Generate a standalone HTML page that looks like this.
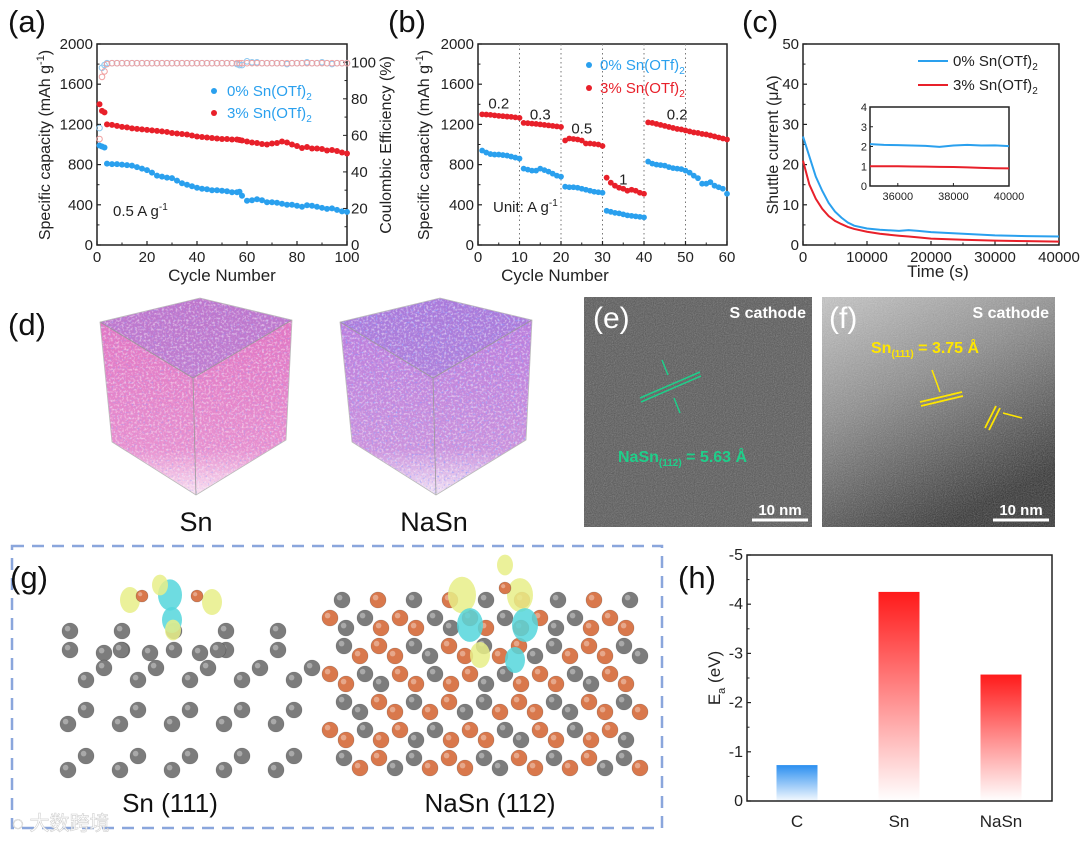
<!DOCTYPE html>
<html><head><meta charset="utf-8"><style>
body{margin:0;background:#fff;}
svg{display:block;font-family:"Liberation Sans","Noto Sans CJK SC",sans-serif;}
</style></head><body>
<svg id="fig" width="1080" height="842" viewBox="0 0 1080 842" xmlns="http://www.w3.org/2000/svg">
<defs>
<filter id="noise" x="0" y="0" width="100%" height="100%"><feTurbulence type="fractalNoise" baseFrequency="0.9" numOctaves="2" seed="3"/><feColorMatrix type="saturate" values="0"/><feComponentTransfer><feFuncA type="table" tableValues="0 0.45"/></feComponentTransfer></filter>
<filter id="speck" x="0" y="0" width="100%" height="100%"><feTurbulence type="fractalNoise" baseFrequency="0.45" numOctaves="2" seed="7"/><feColorMatrix type="matrix" values="0 0 0 0 1  0 0 0 0 1  0 0 0 0 1  0 0 0 3 -1.4"/></filter>
<filter id="speckBlue" x="0" y="0" width="100%" height="100%"><feTurbulence type="fractalNoise" baseFrequency="0.5" numOctaves="2" seed="11"/><feColorMatrix type="matrix" values="0 0 0 0 0.3  0 0 0 0 0.35  0 0 0 0 1  0 0 0 4 -2.3"/></filter>
<linearGradient id="gRed" x1="0" y1="0" x2="0" y2="1"><stop offset="0" stop-color="#ff1a1a"/><stop offset="1" stop-color="#ff1a1a" stop-opacity="0"/></linearGradient>
<linearGradient id="gBlue" x1="0" y1="0" x2="0" y2="1"><stop offset="0" stop-color="#2b8ff0"/><stop offset="1" stop-color="#2b8ff0" stop-opacity="0.05"/></linearGradient>
<linearGradient id="gF" x1="0" y1="0" x2="0.5" y2="1"><stop offset="0" stop-color="#c9c9c9"/><stop offset="0.45" stop-color="#8a8a8a"/><stop offset="1" stop-color="#2e2e2e"/></linearGradient>
<linearGradient id="cubeSn" x1="0" y1="0" x2="0" y2="1"><stop offset="0" stop-color="#e070c0"/><stop offset="0.75" stop-color="#e890cf"/><stop offset="1" stop-color="#fbeaf5"/></linearGradient>
<linearGradient id="cubeNa" x1="0" y1="0" x2="0" y2="1"><stop offset="0" stop-color="#b878dc"/><stop offset="0.75" stop-color="#cc92dc"/><stop offset="1" stop-color="#f6ebf7"/></linearGradient>
<clipPath id="clipSn"><polygon points="100,322 200,298 292,320 286,440 196,495 112,442"/></clipPath>
<clipPath id="clipNa"><polygon points="340,322 440,298 532,320 526,440 436,495 352,442"/></clipPath>
</defs>
<g id="root"></g>
</svg>
<script>
// ---------- Panel (a) data ----------
const aCycles=[1,2,3,4,6,8,10,12,14,16,18,20,22,24,26,28,30,32,34,36,38,40,42,44,46,48,50,52,54,56,57,58,60,62,64,66,68,70,72,74,76,78,80,82,84,86,88,90,92,94,96,98,100];
const aBlueCap=[990,980,970,810,805,805,800,795,790,775,760,745,720,690,680,670,665,640,615,600,585,570,560,555,545,545,540,535,525,525,530,490,440,445,455,445,425,425,420,410,400,400,390,380,395,390,380,370,360,365,350,335,330];
const aRedCap=[1400,1335,1320,1200,1195,1185,1175,1170,1160,1155,1150,1145,1140,1135,1130,1125,1115,1110,1105,1100,1090,1080,1075,1070,1065,1060,1055,1055,1050,1050,1045,1040,1030,1020,1015,1005,1000,1010,1015,1030,1020,1000,985,965,975,960,960,955,940,945,935,920,910];
const aBlueCE=[64,97,98.5,99.5,99.5,99.5,99.5,99.5,99.5,99.5,99.5,99.5,99.5,99.5,99.5,99.5,99.5,99.5,99.5,99.5,99.5,99.5,99.5,99.5,99.5,99.5,99.5,99.5,99.5,99,98.5,98.5,100.5,100,100,99.5,99.5,99.5,99.5,99.5,99,99.5,99.5,99.5,100,99.5,99.5,100,99.5,99,99.5,99.5,99.5];
const aRedCE=[58,92,95,99,99.5,99.5,99.5,99.5,99.5,99.5,99.5,99.5,99.5,99.5,99.5,99.5,99.5,99.5,99.5,99.5,99.5,99.5,99.5,99.5,99.5,99.5,99.5,99.5,99.5,99.5,99.5,99.5,99.5,99.5,99.5,99.5,99.5,99.5,99.5,99.5,99.5,99.5,99.5,99.5,99.5,99.5,99.5,99.5,99.5,99.5,99.5,99.5,99.5];
const aXTicks=[0,20,40,60,80,100];
const aYTicks=[0,400,800,1200,1600,2000];
const aY2Ticks=[0,20,40,60,80,100];
// ---------- Panel (b) data ----------
const bCycles=[1,2,3,4,5,6,7,8,9,10,11,12,13,14,15,16,17,18,19,20,21,22,23,24,25,26,27,28,29,30,31,32,33,34,35,36,37,38,39,40,41,42,43,44,45,46,47,48,49,50,51,52,53,54,55,56,57,58,59,60];
const bRed=[1300,1298,1295,1290,1285,1282,1278,1275,1270,1265,1215,1212,1208,1205,1200,1195,1190,1185,1180,1175,1040,1060,1055,1050,1040,1010,1010,1005,1000,985,670,620,590,570,560,540,550,540,520,510,1220,1215,1205,1195,1185,1175,1165,1155,1150,1140,1130,1120,1115,1105,1100,1090,1080,1070,1060,1050];
const bBlue=[940,920,905,900,900,895,890,880,870,860,760,750,740,740,760,745,730,710,690,680,580,575,575,570,560,550,540,530,525,520,340,330,320,315,305,295,290,285,280,275,830,810,800,795,790,775,765,760,755,740,720,690,665,610,610,625,590,575,560,510];
const bXTicks=[0,10,20,30,40,50,60];
const bYTicks=[0,400,800,1200,1600,2000];
const bRateLabels=["0.2","0.3","0.5","1","0.2"];
const bRateX=[5,15,25,35,48];
const bRateY=[1360,1250,1110,600,1250];
// ---------- Panel (c) data ----------
const cTime=[0,1000,2000,3000,4000,5000,6000,7000,8000,10000,12000,15000,16500,18000,20000,25000,30000,35000,40000];
const cBlue=[27,22,17,13.5,10.5,8.3,6.8,5.6,4.8,4.1,3.8,3.5,3.7,3.5,3.2,2.8,2.4,2.2,2.1];
const cRed=[21,15,11.5,9,7.2,6,5.2,4.5,4,3.3,2.8,2.3,2.1,1.9,1.6,1.3,1.1,0.95,0.85];
const cInsetTime=[35000,35500,36000,36500,37000,37500,38000,38500,39000,39500,40000];
const cInsetBlue=[2.12,2.08,2.07,2.05,2.03,1.98,2.05,2.08,2.05,2.06,2.02];
const cInsetRed=[1.0,1.0,1.0,0.99,0.98,0.97,0.96,0.94,0.92,0.9,0.89];
const cXTicks=[0,10000,20000,30000,40000];
const cYTicks=[0,10,20,30,40,50];
const cInsetXTicks=[36000,38000,40000];
const cInsetYTicks=[0,1,2,3,4];
// ---------- Panel (h) data ----------
const hCats=["C","Sn","NaSn"];
const hVals=[-0.73,-4.25,-2.57];
const hYTicks=[0,-1,-2,-3,-4,-5];

const NS="http://www.w3.org/2000/svg";
const root=document.getElementById('root');
function el(tag,attrs,parent,txt){const e=document.createElementNS(NS,tag);for(const k in attrs)e.setAttribute(k,attrs[k]);if(txt!==undefined)e.textContent=txt;(parent||root).appendChild(e);return e;}
function grp(name,parent){const g=el('g',{},parent);


return g;}
function lin(d0,d1,p0,p1){return v=>p0+(v-d0)*(p1-p0)/(d1-d0);}
function frame(g,x0,y0,x1,y1){el('rect',{x:x0,y:y0,width:x1-x0,height:y1-y0,fill:'none',stroke:'#222','stroke-width':1.5},g);}
function txt(g,x,y,s,o){const a=Object.assign({x:x,y:y,'font-size':15,fill:'#222','text-anchor':'middle'},o||{});return el('text',a,g,s);}
function xTicks(g,ticks,sx,y,lab){ticks.forEach((t,i)=>{el('line',{x1:sx(t),x2:sx(t),y1:y,y2:y-4,stroke:'#222','stroke-width':1.2},g);if(i>0){const m=sx((t+ticks[i-1])/2);el('line',{x1:m,x2:m,y1:y,y2:y-2.5,stroke:'#222','stroke-width':1},g);}if(lab!==false){const e=txt(g,sx(t),y+17,String(t));}});}
function yTicks(g,ticks,sy,x,side,fs){ticks.forEach((t,i)=>{el('line',{x1:x,x2:x+(side<0?4:-4),y1:sy(t),y2:sy(t),stroke:'#222','stroke-width':1.2},g);if(i>0){const m=sy((t+ticks[i-1])/2);el('line',{x1:x,x2:x+(side<0?2.5:-2.5),y1:m,y2:m,stroke:'#222'},g);}const e=txt(g,x+(side<0?-4:4),sy(t)+5,String(t),{'text-anchor':side<0?'end':'start','font-size':fs||15});});}
function rotLabel(g,x,y,parts,name){const t=el('text',{x:0,y:0,'font-size':16,fill:'#222','text-anchor':'middle',transform:`translate(${x},${y}) rotate(-90)`},g);


parts.forEach(p=>{el('tspan',p.sup?{'font-size':11,dy:-6}:(p.down?{dy:6}:{}),t,p.t);});return t;}
function panelLabel(x,y,s){const t=el('text',{x:x,y:y,'font-size':31,fill:'#111'},root,s);

}
function legendText(g,x,y,pct,color){const t=el('text',{x:x,y:y,'font-size':15,fill:color},g);el('tspan',{},t,pct+' Sn(OTf)');el('tspan',{'font-size':10,dy:4},t,'2');return t;}

// ===== Panel (a) =====
(function(){
const g=grp('panel-a-cycling-chart');
const X0=97,X1=347,Y0=245,Y1=44;
const sx=lin(0,100,X0,X1),sy=lin(0,2000,Y0,Y1),sy2=lin(0,110,Y0,Y1);
frame(g,X0,Y1,X1,Y0);
xTicks(g,aXTicks,sx,Y0);yTicks(g,aYTicks,sy,X0,-1);
aY2Ticks.forEach((t,i)=>{el('line',{x1:X1,x2:X1-4,y1:sy2(t),y2:sy2(t),stroke:'#222'},g);if(i>0){const m=sy2(t-10);el('line',{x1:X1,x2:X1-2.5,y1:m,y2:m,stroke:'#222'},g);}const e=txt(g,X1+4,sy2(t)+5,String(t),{'text-anchor':'start'});});
aCycles.forEach((c,i)=>{
 const p=el('circle',{cx:sx(c),cy:sy2(aBlueCE[i]),r:2.8,fill:'none',stroke:'#8ec8f0','stroke-width':1},g);
 
 
 const q=el('circle',{cx:sx(c),cy:sy2(aRedCE[i]),r:2.8,fill:'none',stroke:'#f0a0a0','stroke-width':1},g);
 
 
});
aCycles.forEach((c,i)=>{
 const p=el('circle',{cx:sx(c),cy:sy(aBlueCap[i]),r:3,fill:'#2aa0ee'},g);
 
 
 const q=el('circle',{cx:sx(c),cy:sy(aRedCap[i]),r:3,fill:'#e8202a'},g);
 
 
});
const l=grp('legend-a',g);
el('circle',{cx:214,cy:91,r:3,fill:'#2aa0ee'},l);legendText(l,227,96,'0%','#2aa0ee');
el('circle',{cx:214,cy:113,r:3,fill:'#e8202a'},l);legendText(l,227,118,'3%','#2aa0ee');
const n=el('text',{x:113,y:216,'font-size':15,fill:'#222'},g);el('tspan',{},n,'0.5 A g');el('tspan',{'font-size':10,dy:-6},n,'-1');
const xl=txt(g,222,281,'Cycle Number',{'font-size':17});
rotLabel(g,50,145,[{t:'Specific capacity (mAh g'},{t:'-1',sup:1},{t:')',down:1}],'y-axis-title');
rotLabel(g,391,145,[{t:'Coulombic Efficiency (%)'}],'y2-axis-title');
})();
panelLabel(8,32,'(a)');

// ===== Panel (b) =====
(function(){
const g=grp('panel-b-rate-chart');
const X0=478,X1=727,Y0=245,Y1=44;
const sx=lin(0,60,X0,X1),sy=lin(0,2000,Y0,Y1);
frame(g,X0,Y1,X1,Y0);
[10,20,30,40,50].forEach(v=>el('line',{x1:sx(v),x2:sx(v),y1:Y1,y2:Y0,stroke:'#777','stroke-dasharray':'1.5,3'},g));
xTicks(g,bXTicks,sx,Y0);yTicks(g,bYTicks,sy,X0,-1);
bCycles.forEach((c,i)=>{
 const p=el('circle',{cx:sx(c),cy:sy(bRed[i]),r:2.9,fill:'#e8202a'},g);
 
 
 const q=el('circle',{cx:sx(c),cy:sy(bBlue[i]),r:2.9,fill:'#2aa0ee'},g);
 
 
});
bRateLabels.forEach((s,i)=>{const t=txt(g,sx(bRateX[i]),sy(bRateY[i]),s,{'font-size':15});});
const l=grp('legend-b',g);
el('circle',{cx:589,cy:65,r:3,fill:'#2aa0ee'},l);legendText(l,600,70,'0%','#2aa0ee');
el('circle',{cx:589,cy:88,r:3,fill:'#e8202a'},l);legendText(l,600,93,'3%','#e8202a');
const n=el('text',{x:493,y:212,'font-size':15,fill:'#222'},g);el('tspan',{},n,'Unit: A g');el('tspan',{'font-size':10,dy:-6},n,'-1');
const xl=txt(g,555,281,'Cycle Number',{'font-size':17});
rotLabel(g,429,145,[{t:'Specific capacity (mAh g'},{t:'-1',sup:1},{t:')',down:1}],'y-axis-title');
})();
panelLabel(388,32,'(b)');

// ===== Panel (c) =====
(function(){
const g=grp('panel-c-shuttle-chart');
const X0=803,X1=1059,Y0=245,Y1=44;
const sx=lin(0,40000,X0,X1),sy=lin(0,50,Y0,Y1);
frame(g,X0,Y1,X1,Y0);
xTicks(g,cXTicks,sx,Y0);yTicks(g,cYTicks,sy,X0,-1);
const pb=el('polyline',{points:cTime.map((t,i)=>sx(t)+','+sy(cBlue[i])).join(' '),fill:'none',stroke:'#2aa0ee','stroke-width':2},g);

const pr=el('polyline',{points:cTime.map((t,i)=>sx(t)+','+sy(cRed[i])).join(' '),fill:'none',stroke:'#e8202a','stroke-width':2},g);

const l=grp('legend-c',g);
el('line',{x1:918,x2:948,y1:61,y2:61,stroke:'#2aa0ee','stroke-width':2},l);legendText(l,953,66,'0%','#222');
el('line',{x1:918,x2:948,y1:85,y2:85,stroke:'#e8202a','stroke-width':2},l);legendText(l,953,90,'3%','#222');
const ig=grp('inset-chart',g);
const IX0=870,IX1=1009,IY0=186,IY1=107;
const ix=lin(35000,40000,IX0,IX1),iy=lin(0,4,IY0,IY1);
frame(ig,IX0,IY1,IX1,IY0);
cInsetXTicks.forEach(t=>{el('line',{x1:ix(t),x2:ix(t),y1:IY0,y2:IY0-3,stroke:'#222'},ig);txt(ig,ix(t),IY0+14,String(t),{'font-size':11});});
cInsetYTicks.forEach(t=>{el('line',{x1:IX0,x2:IX0+3,y1:iy(t),y2:iy(t),stroke:'#222'},ig);txt(ig,IX0-3,iy(t)+4,String(t),{'font-size':11,'text-anchor':'end'});});
el('polyline',{points:cInsetTime.map((t,i)=>ix(t)+','+iy(cInsetBlue[i])).join(' '),fill:'none',stroke:'#2aa0ee','stroke-width':2},ig);
el('polyline',{points:cInsetTime.map((t,i)=>ix(t)+','+iy(cInsetRed[i])).join(' '),fill:'none',stroke:'#e8202a','stroke-width':2},ig);
const xl=txt(g,938,277,'Time (s)',{'font-size':17});
rotLabel(g,778,145,[{t:'Shuttle current (μA)'}],'y-axis-title');
})();
panelLabel(742,32,'(c)');

// ===== Panel (d) cubes =====
(function(){
const g=grp('panel-d-cubes');
function cube(dx,fill,clip,name,blueAmt){
 const c=grp(name,g);
 const pts={tl:[100,322],tb:[200,298],tr:[292,320],tf:[193,378],bl:[112,442],bf:[196,495],br:[286,440]};
 const P=k=>(pts[k][0]+dx)+','+pts[k][1];
 const inner=el('g',{'clip-path':'url(#'+clip+')'},c);
 el('rect',{x:95+dx,y:295,width:200,height:205,fill:'url(#'+fill+')'},inner);
 el('polygon',{points:[P('tl'),P('tb'),P('tr'),P('tf')].join(' '),fill:'#9c7ad8',opacity:0.5},inner);
 el('rect',{x:95+dx,y:295,width:200,height:205,fill:'#fff',filter:'url(#speckBlue)',opacity:blueAmt},inner);
 el('rect',{x:95+dx,y:295,width:200,height:205,fill:'#fff',filter:'url(#speck)',opacity:0.5},inner);
 el('polyline',{points:[P('tl'),P('tf'),P('tr')].join(' '),fill:'none',stroke:'#999','stroke-width':0.8},c);
 el('line',{x1:pts.tf[0]+dx,y1:pts.tf[1],x2:pts.bf[0]+dx,y2:pts.bf[1],stroke:'#999','stroke-width':0.8},c);
 el('polygon',{points:[P('tl'),P('tb'),P('tr'),P('br'),P('bf'),P('bl')].join(' '),fill:'none',stroke:'#bbb','stroke-width':0.8},c);
}
cube(0,'cubeSn','clipSn','sn-cube',0.5);cube(240,'cubeNa','clipNa','nasn-cube',0.9);
txt(g,196,531,'Sn',{'font-size':27,fill:'#111'});
txt(g,434,531,'NaSn',{'font-size':27,fill:'#111'});
})();
panelLabel(8,335,'(d)');

// ===== Panels (e)(f) TEM =====
(function(){
const e=grp('panel-e-tem-image');
el('rect',{x:584,y:297,width:228,height:230,fill:'#555'},e);
el('rect',{x:584,y:297,width:228,height:230,fill:'#fff',filter:'url(#noise)'},e);
el('text',{x:806,y:318,'font-size':16,fill:'#fff','font-weight':'bold','text-anchor':'end'},e,'S cathode');
el('text',{x:593,y:328,'font-size':30,fill:'#fff'},e,'(e)');
el('line',{x1:640,y1:398,x2:700,y2:372,stroke:'#1fcf8a','stroke-width':1.5},e);
el('line',{x1:641,y1:402,x2:701,y2:376,stroke:'#1fcf8a','stroke-width':1.5},e);
el('line',{x1:662,y1:360,x2:668,y2:375,stroke:'#1fcf8a','stroke-width':1.5},e);
el('line',{x1:674,y1:398,x2:680,y2:413,stroke:'#1fcf8a','stroke-width':1.5},e);
const t=el('text',{x:618,y:462,'font-size':16,fill:'#1fcf8a','font-weight':'bold'},e);
el('tspan',{},t,'NaSn');el('tspan',{'font-size':10,dy:4},t,'(112)');el('tspan',{dy:-4},t,' = 5.63 Å');
el('line',{x1:752,y1:520,x2:808,y2:520,stroke:'#fff','stroke-width':3},e);
el('text',{x:780,y:515,'font-size':15,fill:'#fff','font-weight':'bold','text-anchor':'middle'},e,'10 nm');
const f=grp('panel-f-tem-image');
el('rect',{x:822,y:297,width:233,height:230,fill:'url(#gF)'},f);
el('rect',{x:822,y:297,width:233,height:230,fill:'#fff',filter:'url(#noise)'},f);
el('text',{x:1049,y:318,'font-size':16,fill:'#fff','font-weight':'bold','text-anchor':'end'},f,'S cathode');
el('text',{x:829,y:328,'font-size':30,fill:'#fff'},f,'(f)');
const t2=el('text',{x:871,y:353,'font-size':16,fill:'#ffe600','font-weight':'bold'},f);
el('tspan',{},t2,'Sn');el('tspan',{'font-size':10,dy:4},t2,'(111)');el('tspan',{dy:-4},t2,' = 3.75 Å');
[[920,402,962,392],[921,406,963,396],[985,428,996,406],[989,430,1000,408]].forEach(a=>el('line',{x1:a[0],y1:a[1],x2:a[2],y2:a[3],stroke:'#ffe600','stroke-width':1.8},f));
el('line',{x1:932,y1:370,x2:940,y2:392,stroke:'#ffe600','stroke-width':1.5},f);
el('line',{x1:1003,y1:413,x2:1022,y2:418,stroke:'#ffe600','stroke-width':1.5},f);
el('line',{x1:993,y1:520,x2:1049,y2:520,stroke:'#fff','stroke-width':3},f);
el('text',{x:1021,y:515,'font-size':15,fill:'#fff','font-weight':'bold','text-anchor':'middle'},f,'10 nm');
})();

// ===== Panel (g) structures =====
(function(){
const g=grp('panel-g-structures');
el('rect',{x:12,y:546,width:650,height:282,fill:'none',stroke:'#8aa6dc','stroke-width':2.5,'stroke-dasharray':'12,8'},g);
function atom(x,y,r,c){el('circle',{cx:x,cy:y,r:r,fill:c,stroke:'rgba(0,0,0,0.25)','stroke-width':0.6},g);el('circle',{cx:x-r*0.3,cy:y-r*0.3,r:r*0.35,fill:'#fff',opacity:0.35},g);}
const gray='#7c7c7c',orng='#d9784c';
for(let i=0;i<5;i++){const x=70+i*52;atom(x,631,8,gray);atom(x,650,8,gray);}
[[104,653],[121,650],[150,653],[200,653],[218,650]].forEach(p=>atom(p[0],p[1],8,gray));
for(let r=0;r<3;r++){const y=[668,714,760][r];for(let i=0;i<5;i++){const x=(r==0?86:68)+i*52;atom(x,y+(r==0?12:10),8,gray);atom(x+18,y-(r==0?0:4),8,gray);}}
for(let r=0;r<6;r++){for(let i=0;i<9;i++){const x=330+i*35+(r%2)*14,y=618+r*28;atom(x,y,8,(i+r)%2?gray:orng);atom(x+16,y+10,8,(i+r)%3?orng:gray);}}
for(let i=0;i<9;i++){atom(342+i*36,600,8,i%2?orng:gray);}
[[130,600,10,'#e8ef88'],[212,602,10,'#e8ef88'],[170,595,12,'#55d6dc'],[172,620,10,'#55d6dc'],[160,585,8,'#e8ef88'],[173,630,8,'#e8ef88'],
 [462,595,14,'#e8ef88'],[470,625,13,'#55d6dc'],[520,595,13,'#e8ef88'],[525,625,13,'#55d6dc'],[480,655,10,'#e8ef88'],[515,660,10,'#55d6dc'],[505,565,8,'#e8ef88']].forEach(b=>el('ellipse',{cx:b[0],cy:b[1],rx:b[2],ry:b[2]*1.3,fill:b[3],opacity:0.85},g));
atom(142,596,6,orng);atom(197,596,6,orng);atom(505,588,6,orng);
txt(g,170,812,'Sn (111)',{'font-size':26,fill:'#111'});
txt(g,490,812,'NaSn (112)',{'font-size':26,fill:'#111'});
const w=el('text',{x:12,y:830,'font-size':20,fill:'#fff',stroke:'#ccc','stroke-width':0.6,opacity:0.9},g,'◌ 大数跨境');

})();
panelLabel(10,588,'(g)');

// ===== Panel (h) =====
(function(){
const g=grp('panel-h-bar-chart');
const X0=747,X1=1052,Y0=801,Y1=555;
const sy=lin(0,-5,Y0,Y1);
const bw=41,cx=i=>797+i*102;
hCats.forEach((c,i)=>{
 const b=el('rect',{x:cx(i)-bw/2,y:sy(hVals[i]),width:bw,height:Y0-sy(hVals[i]),fill:i==0?'url(#gBlue)':'url(#gRed)'},g);
 
 
 const t=txt(g,cx(i),827,c,{'font-size':17});
 
 
});
frame(g,X0,Y1,X1,Y0);
yTicks(g,hYTicks,sy,X0,-1,16);
const t=el('text',{x:0,y:0,'font-size':17,fill:'#222','text-anchor':'middle',transform:'translate(720,678) rotate(-90)'},g);

el('tspan',{},t,'E');el('tspan',{'font-size':11,dy:5},t,'a');el('tspan',{dy:-5},t,' (eV)');
})();
panelLabel(678,588,'(h)');
</script>
</body></html>
